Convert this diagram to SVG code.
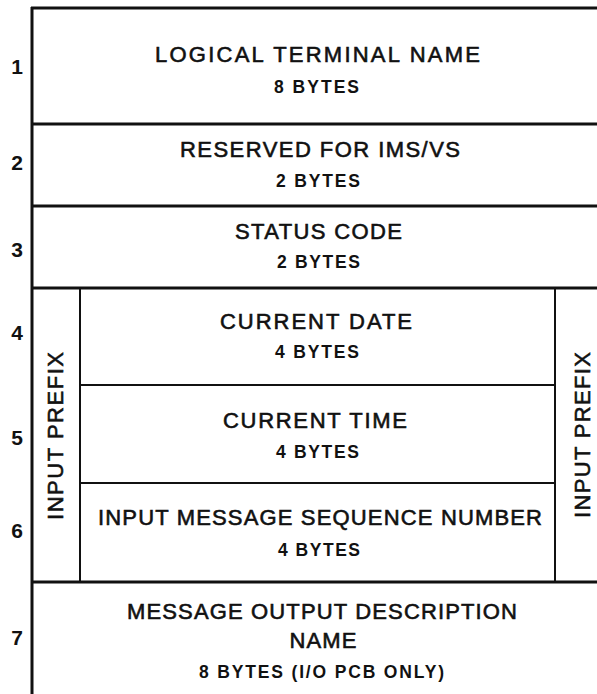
<svg xmlns="http://www.w3.org/2000/svg" width="597" height="694" viewBox="0 0 597 694">
<style>
  .t { font-family: "Liberation Sans", Arial, sans-serif; font-size: 22px; fill: #111; text-anchor: middle; stroke: #111; stroke-width: 0.6; }
  .b { font-family: "Liberation Sans", Arial, sans-serif; font-size: 17.5px; font-weight: bold; fill: #111; text-anchor: middle; }
  .n { font-family: "Liberation Sans", Arial, sans-serif; font-size: 21px; font-weight: bold; fill: #111; text-anchor: middle; }
  .thick { stroke: #111; stroke-width: 3; fill: none; }
  .thin { stroke: #111; stroke-width: 2; fill: none; }
</style>
<rect width="597" height="694" fill="#fff"/>
<g id="grid">
  <line class="thick" x1="31" y1="8" x2="597" y2="8"/>
  <line class="thick" x1="32" y1="7" x2="32" y2="694"/>
  <line class="thick" x1="32" y1="124" x2="597" y2="124"/>
  <line class="thick" x1="32" y1="206" x2="597" y2="206"/>
  <line class="thick" x1="32" y1="288" x2="597" y2="288"/>
  <line class="thick" x1="32" y1="582" x2="597" y2="582"/>
  <line class="thin" x1="80" y1="288" x2="80" y2="582"/>
  <line class="thin" x1="555" y1="288" x2="555" y2="582"/>
  <line class="thin" x1="80" y1="385" x2="555" y2="385"/>
  <line class="thin" x1="80" y1="483" x2="555" y2="483"/>
</g>
<g id="connectors"></g>
<g id="field1">
  <text class="n" x="17" y="74">1</text>
  <text class="t" x="317.5" y="62" textLength="325" lengthAdjust="spacing">LOGICAL TERMINAL NAME</text>
  <text class="b" x="316.5" y="93" textLength="85" lengthAdjust="spacing">8 BYTES</text>
</g>
<g id="field2">
  <text class="n" x="17" y="170">2</text>
  <text class="t" x="320" y="157" textLength="280" lengthAdjust="spacing">RESERVED FOR IMS/VS</text>
  <text class="b" x="318" y="187" textLength="84" lengthAdjust="spacing">2 BYTES</text>
</g>
<g id="field3">
  <text class="n" x="17" y="257">3</text>
  <text class="t" x="318.5" y="239" textLength="167" lengthAdjust="spacing">STATUS CODE</text>
  <text class="b" x="318.5" y="268" textLength="83" lengthAdjust="spacing">2 BYTES</text>
</g>
<g id="field4">
  <text class="n" x="17" y="340">4</text>
  <text class="t" x="316" y="329" textLength="192" lengthAdjust="spacing">CURRENT DATE</text>
  <text class="b" x="317" y="358" textLength="84" lengthAdjust="spacing">4 BYTES</text>
</g>
<g id="field5">
  <text class="n" x="17" y="445">5</text>
  <text class="t" x="315" y="428" textLength="184" lengthAdjust="spacing">CURRENT TIME</text>
  <text class="b" x="317.5" y="458" textLength="83" lengthAdjust="spacing">4 BYTES</text>
</g>
<g id="field6">
  <text class="n" x="17" y="538">6</text>
  <text class="t" x="320" y="525" textLength="444" lengthAdjust="spacing">INPUT MESSAGE SEQUENCE NUMBER</text>
  <text class="b" x="319" y="556" textLength="82" lengthAdjust="spacing">4 BYTES</text>
</g>
<g id="field7">
  <text class="n" x="17" y="645">7</text>
  <text class="t" x="322" y="619" textLength="390" lengthAdjust="spacing">MESSAGE OUTPUT DESCRIPTION</text>
  <text class="t" x="323" y="648" textLength="67" lengthAdjust="spacing">NAME</text>
  <text class="b" x="321.5" y="678" textLength="245" lengthAdjust="spacing">8 BYTES (I/O PCB ONLY)</text>
</g>
<g id="prefix-left">
  <text class="t" transform="translate(63,436) rotate(-90)" x="0" y="0" textLength="168" lengthAdjust="spacing">INPUT PREFIX</text>
</g>
<g id="prefix-right">
  <text class="t" transform="translate(590,435) rotate(-90)" x="0" y="0" textLength="166" lengthAdjust="spacing">INPUT PREFIX</text>
</g>
</svg>
